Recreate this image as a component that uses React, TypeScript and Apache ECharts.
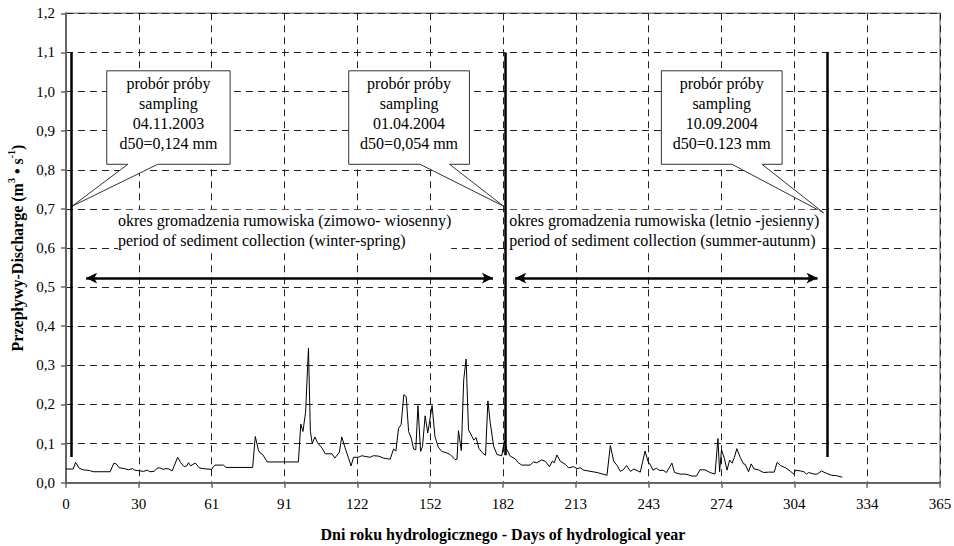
import React, { useEffect, useRef } from "react";
import * as echarts from "echarts";

// Days of hydrological year (x) and discharge m3/s (y)
const days = [
  0, 3, 4, 5.5, 7.2, 9.9, 11.3, 18.4, 20, 21, 22.2, 24.5, 26, 27.8, 28.7, 32.3, 34, 35, 36.8, 38,
  39.2, 40.5, 41.7, 43, 44.3, 45.3, 46.6, 47.9, 49.3, 50.4, 51.1, 52, 53, 54, 55.6, 57.2, 60.8, 61.5, 62.2, 65.7,
  66.8, 77.9, 79, 80.3, 81, 82, 84, 97, 98, 98.9, 100, 101.2, 102, 102.8, 103.9, 105, 106.8, 108.2, 111, 112.2,
  114.1, 115.1, 116.5, 117.9, 119, 120, 122, 123.5, 124.9, 127, 128.3, 130.4, 132.5, 135.3, 136.7, 137.7, 138.8, 139.9, 141, 142,
  143, 144.1, 145.1, 146, 146.9, 148, 148.8, 149.9, 151, 152.8, 154, 155.4, 156.8, 158.6, 160.4, 162.4, 163.2, 163.8, 165, 166,
  167, 168, 169.5, 170.2, 171.2, 172.3, 173.7, 175.1, 176.1, 177.1, 178.5, 179.9, 181.9, 182.9, 184, 185.4, 187.5, 188.8, 190.2, 193.7,
  195.1, 196.5, 198.5, 200, 201.8, 203, 203.8, 204.9, 206.3, 208.4, 209.8, 211.9, 213.3, 214.7, 216.1, 221.7, 225.8, 227.2, 228.6, 230,
  231.4, 232.6, 234, 235.6, 237, 239.7, 241.7, 243, 244, 245, 246.4, 247.8, 249.2, 250.6, 252.9, 254, 256.3, 258.4, 259.8, 261.2,
  263.2, 264.6, 266.7, 268.8, 270.9, 272.1, 272.8, 273.6, 274.8, 275.9, 277, 278, 279, 280, 281.4, 282.8, 283.5, 284.9, 286, 287.2,
  289, 291.1, 293.2, 295.6, 296.8, 298.2, 300.3, 302.4, 303.8, 304.5, 306.6, 308, 309.1, 310, 312.1, 313.5, 315.3, 317.4, 319.5, 321.6,
  324,
];
const discharge = [
  0.035, 0.035, 0.052, 0.037, 0.033, 0.031, 0.028, 0.028, 0.05, 0.048, 0.038, 0.036, 0.033, 0.036, 0.032, 0.029, 0.032, 0.028, 0.029, 0.037,
  0.038, 0.034, 0.036, 0.035, 0.03, 0.045, 0.065, 0.051, 0.041, 0.043, 0.051, 0.043, 0.047, 0.05, 0.038, 0.036, 0.034, 0.041, 0.045, 0.045,
  0.039, 0.039, 0.118, 0.084, 0.076, 0.073, 0.053, 0.053, 0.15, 0.131, 0.18, 0.344, 0.131, 0.1, 0.117, 0.102, 0.089, 0.074, 0.074, 0.063,
  0.078, 0.117, 0.089, 0.063, 0.043, 0.065, 0.065, 0.069, 0.067, 0.065, 0.069, 0.068, 0.063, 0.06, 0.086, 0.081, 0.139, 0.149, 0.225, 0.22,
  0.131, 0.114, 0.086, 0.084, 0.197, 0.08, 0.092, 0.171, 0.127, 0.197, 0.118, 0.091, 0.08, 0.077, 0.072, 0.059, 0.06, 0.133, 0.082, 0.263,
  0.316, 0.135, 0.118, 0.109, 0.115, 0.088, 0.077, 0.07, 0.209, 0.152, 0.093, 0.072, 0.069, 0.106, 0.085, 0.068, 0.061, 0.051, 0.045, 0.045,
  0.053, 0.051, 0.058, 0.055, 0.041, 0.055, 0.051, 0.071, 0.055, 0.047, 0.038, 0.041, 0.036, 0.038, 0.032, 0.026, 0.019, 0.095, 0.055, 0.044,
  0.029, 0.033, 0.044, 0.029, 0.035, 0.027, 0.081, 0.053, 0.045, 0.032, 0.037, 0.031, 0.032, 0.026, 0.05, 0.026, 0.022, 0.022, 0.02, 0.017,
  0.017, 0.033, 0.033, 0.026, 0.022, 0.113, 0.028, 0.084, 0.062, 0.032, 0.058, 0.05, 0.065, 0.087, 0.065, 0.048, 0.047, 0.028, 0.048, 0.035,
  0.033, 0.026, 0.027, 0.027, 0.052, 0.044, 0.038, 0.029, 0.022, 0.032, 0.03, 0.028, 0.022, 0.026, 0.022, 0.022, 0.03, 0.024, 0.019, 0.018,
  0.014,
];

// Axis ticks (12 equal parts of the year)
const xMin = 0;
const xMax = 364.8;
const xInterval = 30.4;
const yMin = 0;
const yMax = 1.2;
const yInterval = 0.1;

// Sampling markers (day, bottom value, top value)
const samplingDays = [2.1, 183.4, 317.9];
const samplingBottoms = [0.066, 0.07, 0.066];
const samplingTop = 1.1;

// Collection-period arrows (day from, day to, value)
const arrowFrom = [8.4, 187.5];
const arrowTo = [178.2, 313.7];
const arrowValue = 0.523;

// Callouts (in data units)
const calloutText = [
  "probór próby\nsampling\n04.11.2003\nd50=0,124 mm",
  "probór próby\nsampling\n01.04.2004\nd50=0,054 mm",
  "probór próby\nsampling\n10.09.2004\nd50=0.123 mm",
];
const calloutLeft = [17.0, 118.0, 248.5];
const calloutRight = [68.5, 168.4, 298.9];
const calloutTop = [1.053, 1.053, 1.053];
const calloutBottom = [0.814, 0.814, 0.814];
const calloutBase1 = [25.8, 147.8, 278.0];
const calloutBase2 = [38.3, 160.1, 290.5];
const calloutTipDay = [2.6, 182.6, 316.2];
const calloutTipValue = [0.707, 0.707, 0.69];

// Period labels
const periodText = [
  "okres gromadzenia rumowiska (zimowo- wiosenny)\nperiod of sediment collection (winter-spring)",
  "okres gromadzenia rumowiska (letnio -jesienny)\nperiod of sediment collection (summer-autunm)",
];
const periodDay = [21.7, 185.0];
const periodValue = [0.698, 0.698];

const FONT = "'Liberation Serif', 'Times New Roman', serif";

export default function App() {
  const ref = useRef<HTMLDivElement>(null);
  useEffect(() => {
    if (!ref.current) return;
    const chart = echarts.init(ref.current, null, { renderer: "svg" });
    const lineData = days.map((d, i) => [d, discharge[i]]);

    const markLines: any[] = [];
    samplingDays.forEach((d, i) => {
      markLines.push([
        { coord: [d, samplingBottoms[i]], symbol: "none" },
        { coord: [d, samplingTop], symbol: "none" },
      ]);
    });
    arrowFrom.forEach((d, i) => {
      markLines.push([
        { coord: [d, arrowValue], symbol: "arrow", symbolSize: [8, 11] },
        { coord: [arrowTo[i], arrowValue], symbol: "arrow", symbolSize: [8, 11] },
      ]);
    });

    chart.setOption({
      animation: false,
      backgroundColor: "#fff",
      textStyle: { fontFamily: FONT },
      grid: {
        left: 66,
        right: 14,
        top: 13.3,
        bottom: 63.3,
        containLabel: false,
        outerBoundsMode: "none",
        show: true,
        borderColor: "#888",
        borderWidth: 1.5,
      },
      xAxis: {
        type: "value",
        min: xMin,
        max: xMax,
        interval: xInterval,
        name: "Dni roku hydrologicznego - Days of hydrological year",
        nameLocation: "middle",
        nameGap: 44,
        nameTextStyle: { fontFamily: FONT, fontWeight: "bold", fontSize: 16, color: "#000" },
        axisLine: { show: true, onZero: false, lineStyle: { color: "#666", width: 2 } },
        axisTick: { show: true, length: 5, lineStyle: { color: "#666", width: 1.5 } },
        axisLabel: {
          fontFamily: FONT,
          fontSize: 15,
          color: "#000",
          margin: 14,
          formatter: (v: number) => String(Math.round(v)),
        },
        splitLine: { show: true, lineStyle: { color: "#222", type: [7, 5], width: 1 } },
      },
      yAxis: {
        type: "value",
        min: yMin,
        max: yMax,
        interval: yInterval,
        name: "{b|Przepływy-Discharge (m}{s|3}{b| • s}{s|-1}{b|)}",
        nameLocation: "middle",
        nameGap: 40,
        nameRotate: 90,
        nameTextStyle: {
          fontFamily: FONT,
          fontWeight: "bold",
          fontSize: 16,
          color: "#000",
          rich: {
            b: { fontFamily: FONT, fontWeight: "bold", fontSize: 16, color: "#000", lineHeight: 19, verticalAlign: "bottom" },
            s: { fontFamily: FONT, fontWeight: "bold", fontSize: 10, color: "#000", lineHeight: 19, verticalAlign: "top" },
          },
        },
        axisLine: { show: true, lineStyle: { color: "#666", width: 2 } },
        axisTick: { show: true, length: 5, lineStyle: { color: "#666", width: 1.5 } },
        axisLabel: {
          fontFamily: FONT,
          fontSize: 15,
          color: "#000",
          margin: 11,
          formatter: (v: number) => v.toFixed(1).replace(".", ","),
        },
        splitLine: { show: true, lineStyle: { color: "#222", type: [7, 5], width: 1 } },
      },
      series: [
        {
          type: "custom",
          name: "callouts",
          z: 3,
          silent: true,
          data: calloutLeft.map((_, i) => [calloutLeft[i], calloutTop[i]]),
          renderItem: (params: any, api: any) => {
            const i = params.dataIndex;
            const tl = api.coord([calloutLeft[i], calloutTop[i]]);
            const br = api.coord([calloutRight[i], calloutBottom[i]]);
            const b1 = api.coord([calloutBase1[i], calloutBottom[i]]);
            const b2 = api.coord([calloutBase2[i], calloutBottom[i]]);
            const tip = api.coord([calloutTipDay[i], calloutTipValue[i]]);
            return {
              type: "group",
              children: [
                {
                  type: "polygon",
                  shape: {
                    points: [
                      [tl[0], tl[1]],
                      [br[0], tl[1]],
                      [br[0], br[1]],
                      [b2[0], br[1]],
                      [tip[0], tip[1]],
                      [b1[0], br[1]],
                      [tl[0], br[1]],
                    ],
                  },
                  style: { fill: "#fff", stroke: "#333", lineWidth: 1 },
                },
                {
                  type: "text",
                  style: {
                    text: calloutText[i],
                    x: (tl[0] + br[0]) / 2,
                    y: tl[1] + 2.5,
                    textAlign: "center",
                    textVerticalAlign: "top",
                    fontFamily: FONT,
                    fontSize: 16,
                    lineHeight: 20,
                    fill: "#000",
                  },
                },
              ],
            };
          },
        },
        {
          type: "custom",
          name: "periods",
          z: 3,
          silent: true,
          data: periodDay.map((_, i) => [periodDay[i], periodValue[i]]),
          renderItem: (params: any, api: any) => {
            const i = params.dataIndex;
            const p = api.coord([periodDay[i], periodValue[i]]);
            return {
              type: "text",
              style: {
                text: periodText[i],
                x: p[0],
                y: p[1],
                textAlign: "left",
                textVerticalAlign: "top",
                fontFamily: FONT,
                fontSize: 16,
                lineHeight: 20.7,
                fill: "#000",
                backgroundColor: "#fff",
              },
            };
          },
        },
        {
          type: "line",
          name: "discharge",
          z: 4,
          data: lineData,
          showSymbol: false,
          symbol: "none",
          lineStyle: { color: "#000", width: 1 },
          markLine: {
            silent: true,
            animation: false,
            label: { show: false },
            lineStyle: { color: "#000", width: 2.5, type: "solid" },
            data: markLines,
          },
        },
      ],
    });
    return () => chart.dispose();
  }, []);
  return (
    <div
      ref={ref}
      style={{ position: "fixed", left: 0, top: 0, width: 954, height: 546, background: "#fff" }}
    />
  );
}
